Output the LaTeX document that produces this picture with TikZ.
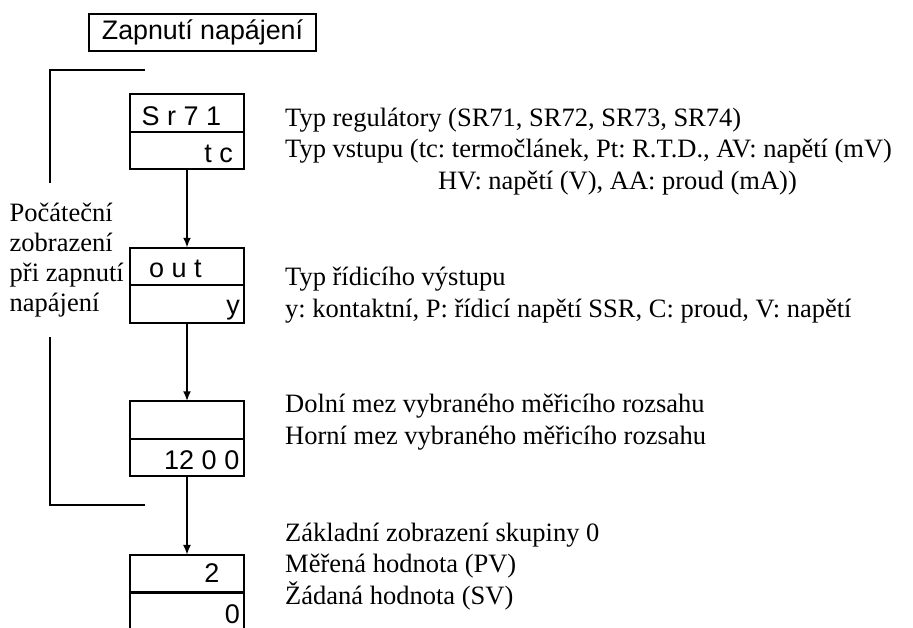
\documentclass[tikz,border=0pt]{standalone}
\usepackage{fontspec}
\setmainfont{Liberation Serif}
\newfontfamily\segfont{Liberation Sans}
\frenchspacing
\usetikzlibrary{arrows.meta, positioning}
\tikzset{
  x=1pt, y=-1pt,
  row/.style={draw, line width=2.3pt, outer sep=0pt, minimum width=113.6, minimum height=37.5, inner sep=0pt},
  dig/.style={font=\segfont\fontsize{27}{30}\selectfont, inner sep=0pt},
  ttl/.style={draw, line width=2pt, minimum width=227, minimum height=37, inner sep=0pt, font=\segfont\fontsize{26.8}{30}\selectfont},
  txt/.style={align=left, inner sep=0pt, font=\fontsize{26.5}{31.5}\selectfont},
  brk/.style={line width=2pt},
  tra/.style={-{Latex[length=10pt, width=8pt]}, line width=2pt}
}
\newcommand{\panel}[2]{%
  \node[row] (#1t) at (187,#2) {};
  \node[row, below=0pt of #1t] (#1b) {};}

\begin{document}
\begin{tikzpicture}
		\path[use as bounding box, clip] (0,0) rectangle (913,627);
		\node[ttl] (on) at (202.5,32.5) {Zapnutí napájení\hspace{6pt}};
		% display panels
		\panel{p1}{113}
		\panel{p2}{266.5}
		\panel{p3}{420}
		\panel{p4}{573.7}
		\node[dig, anchor=base west] (s1) at (141.5,125) {S r 7 1};
		\node[dig, anchor=base east] (s2) at (233,162) {t c};
		\node[dig, anchor=base west] (s3) at (149,277) {o u t};
		\node[dig, anchor=base east] (s4) at (240,314) {y};
		\node[dig, anchor=base east] (s5) at (239.5,469) {12 0 0};
		\node[dig, anchor=base east] (s6) at (219.5,582) {2};
		\node[dig, anchor=base east] (s7) at (240,623) {0};
		\draw[tra] (p1b) -- (p2t);
		\draw[tra] (p2b) -- (p3t);
		\draw[tra] (p3b) -- (p4t);
		% bracket
		\draw[brk] (145,70) -- (50,70) -- (50,183);
		\draw[brk] (50,337) -- (50,505) -- (145,505);
		\node[txt, font=\fontsize{26.5}{30}\selectfont, anchor=base west] (init) at (9.5,311)
			{Počáteční\\zobrazení\\při zapnutí\\napájení};
		% descriptions
		\node[txt, anchor=base west] (d1) at (285,189)
			{Typ regulátory (SR71, SR72, SR73, SR74)\\Typ vstupu (tc: termočlánek, Pt: R.T.D., AV: napětí (mV)\\\hspace*{153pt}HV: napětí (V), AA: proud (mA))};
		\node[txt, anchor=base west] (d2) at (285,317)
			{Typ řídicího výstupu\\y: kontaktní, P: řídicí napětí SSR, C: proud, V: napětí};
		\node[txt, anchor=base west] (d3) at (285,444)
			{Dolní mez vybraného měřicího rozsahu\\Horní mez vybraného měřicího rozsahu};
		\node[txt, anchor=base west] (d4) at (285,604)
			{Základní zobrazení skupiny 0\\Měřená hodnota (PV)\\Žádaná hodnota (SV)};
	\end{tikzpicture}
\end{document}
